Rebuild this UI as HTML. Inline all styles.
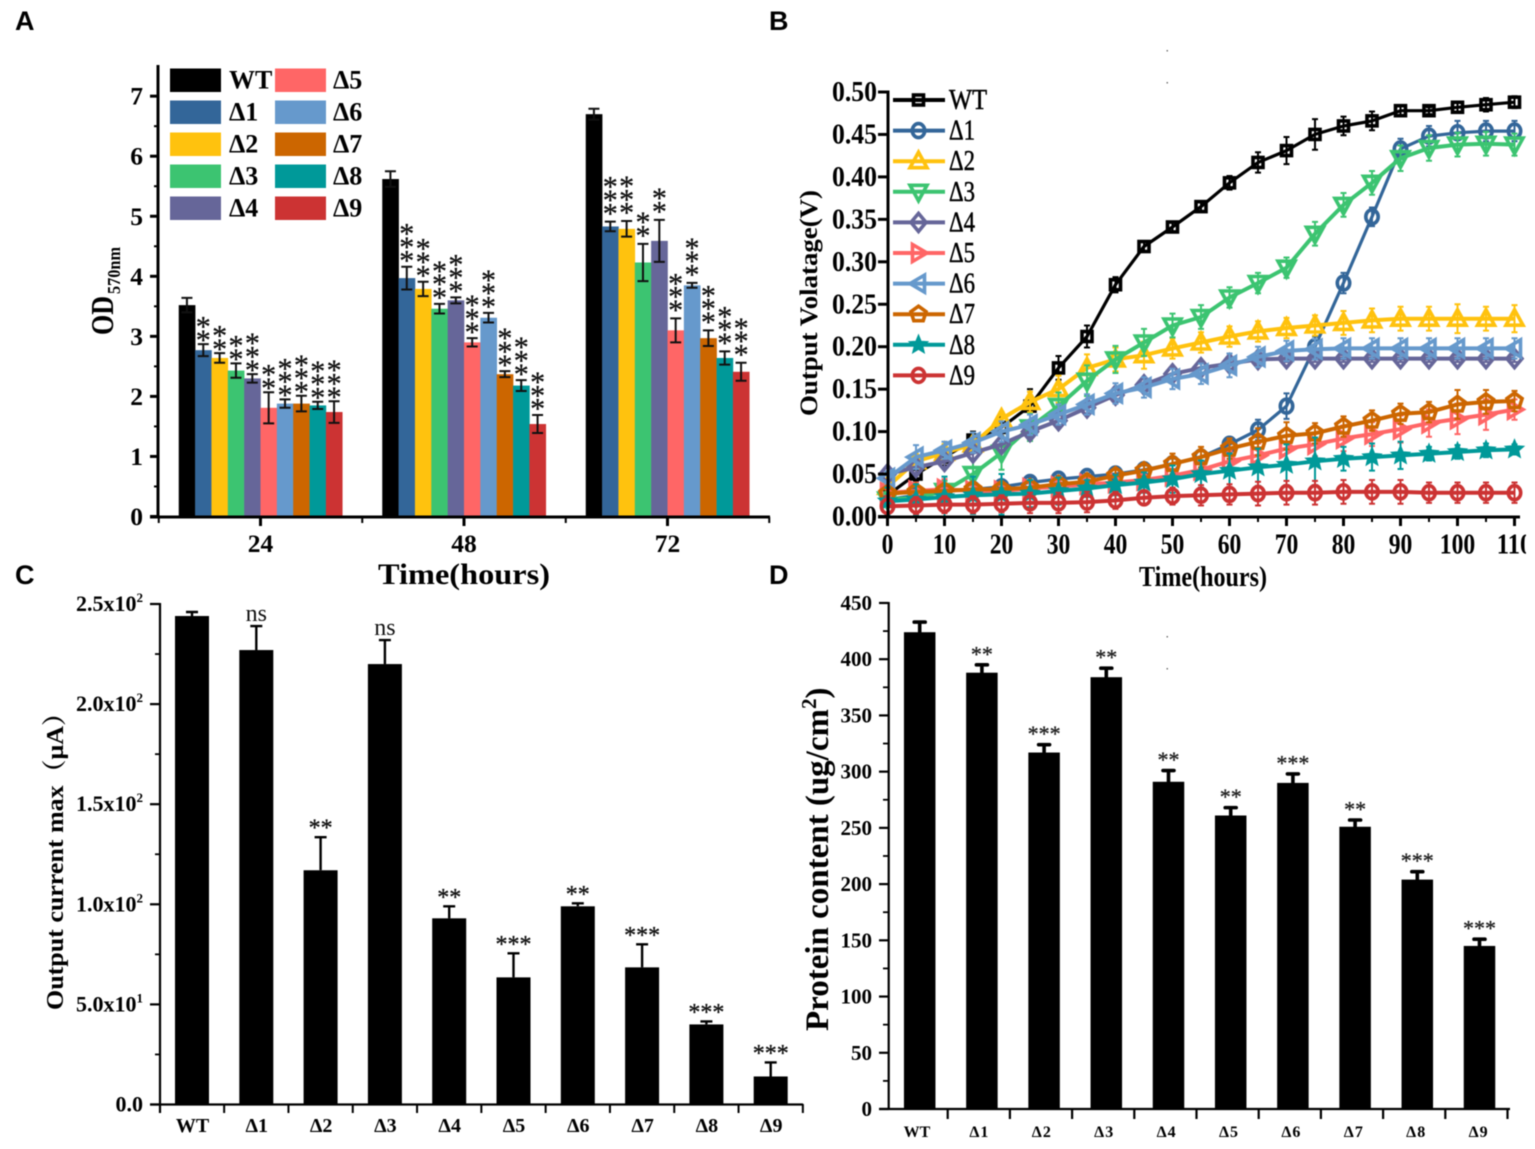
<!DOCTYPE html>
<html lang="en">
<head>
<meta charset="utf-8">
<title>Multi-panel growth and output chart</title>
<style>
html,body{margin:0;padding:0;background:#fff;}
svg{display:block;font-family:"Liberation Serif","Noto Serif CJK SC",serif;filter:blur(0.4px);}
.panel{font-family:"Liberation Sans",sans-serif;font-weight:700;font-size:27px;fill:#000;}
.b{font-weight:700;fill:#000;}
</style>
</head>
<body>
<svg id="fig" xmlns="http://www.w3.org/2000/svg" width="1535" height="1149" viewBox="0 0 1535 1149">
  <rect width="1535" height="1149" fill="#fff"/>
  <text class="panel" x="15" y="30">A</text>
  <text class="panel" x="769" y="30">B</text>
  <text class="panel" x="15" y="584">C</text>
  <text class="panel" x="769" y="584">D</text>

  <g id="panelA"></g>
  <text class="b" font-size="32" textLength="39" lengthAdjust="spacingAndGlyphs" transform="translate(113,335) rotate(-90)">OD</text>
  <text class="b" font-size="18" textLength="47" lengthAdjust="spacingAndGlyphs" transform="translate(120,294) rotate(-90)">570nm</text>
  <text class="b" x="378" y="584" font-size="30" textLength="172" lengthAdjust="spacingAndGlyphs">Time(hours)</text>

  <g id="panelB"></g>
  <text class="b" font-size="25" textLength="226" lengthAdjust="spacingAndGlyphs" transform="translate(817,416) rotate(-90)">Output Volatage(V)</text>
  <text class="b" x="1139" y="586" font-size="28" textLength="128" lengthAdjust="spacingAndGlyphs">Time(hours)</text>
  <rect x="1526" y="525" width="9" height="40" fill="#fff"/>
  <g fill="#777">
    <rect x="1166.5" y="50" width="1.5" height="1.5"/>
    <rect x="1166.5" y="82" width="1.5" height="1.5"/>
    <rect x="1166.5" y="636" width="1.5" height="1.5"/>
    <rect x="1166.5" y="668" width="1.5" height="1.5"/>
  </g>

  <g id="panelC"></g>
  <text class="b" font-size="24.5" textLength="310" lengthAdjust="spacingAndGlyphs" transform="translate(63,1010) rotate(-90)">Output current max（μA）</text>

  <g id="panelD"></g>
  <text class="b" font-size="33" transform="translate(828,1031) rotate(-90)">Protein content (ug/cm<tspan font-size="21" dy="-12">2</tspan><tspan dy="12">)</tspan></text>
</svg>
<script>
/* ---------- shared categories ---------- */
const strains = ['WT','Δ1','Δ2','Δ3','Δ4','Δ5','Δ6','Δ7','Δ8','Δ9'];
const strainColors = ['#000000','#336699','#ffc20e','#3cc471','#666699','#ff6666','#6699cc','#cc6600','#009999','#cc3333'];

/* ---------- panel A data ---------- */
const hourLabels = ['24','48','72'];
const odTicks = [0,1,2,3,4,5,6,7];
const odMinorTicks = [0.5,1.5,2.5,3.5,4.5,5.5,6.5];
const od24 = [3.52,2.77,2.64,2.43,2.30,1.81,1.88,1.88,1.85,1.74];
const od48 = [5.62,3.97,3.79,3.46,3.60,2.90,3.31,2.37,2.18,1.54];
const od72 = [6.70,4.83,4.79,4.23,4.59,3.10,3.85,2.97,2.64,2.41];
const odErr24 = [0.12,0.10,0.08,0.12,0.07,0.26,0.07,0.13,0.06,0.18];
const odErr48 = [0.13,0.19,0.12,0.08,0.05,0.07,0.08,0.05,0.09,0.15];
const odErr72 = [0.09,0.08,0.13,0.31,0.35,0.20,0.04,0.13,0.11,0.15];
const odStars24 = [0,2,2,2,3,2,3,3,3,3];
const odStars48 = [0,3,3,3,3,3,3,3,3,3];
const odStars72 = [0,3,3,2,2,3,3,3,3,3];

/* ---------- panel B data ---------- */
const hours = [0,5,10,15,20,25,30,35,40,45,50,55,60,65,70,75,80,85,90,95,100,105,110];
const hourTicks = [0,10,20,30,40,50,60,70,80,90,100,110];
const hourMinorTicks = [5,15,25,35,45,55,65,75,85,95,105];
const voltTicks = [0,0.05,0.10,0.15,0.20,0.25,0.30,0.35,0.40,0.45,0.50];
const voltWT = [.025,.05,.07,.09,.105,.13,.175,.212,.273,.318,.341,.365,.393,.417,.431,.45,.46,.466,.478,.478,.482,.485,.488];
const volt1 = [.02,.025,.03,.032,.035,.04,.044,.047,.05,.055,.062,.07,.085,.102,.13,.2,.275,.353,.433,.448,.452,.454,.454];
const volt2 = [.035,.065,.075,.085,.115,.135,.15,.175,.185,.19,.198,.205,.212,.218,.222,.225,.228,.231,.233,.233,.233,.233,.233];
const volt3 = [.02,.022,.03,.05,.075,.105,.13,.16,.185,.205,.225,.235,.258,.275,.293,.333,.367,.393,.422,.434,.438,.439,.438];
const volt4 = [.05,.058,.065,.075,.085,.1,.113,.128,.143,.155,.168,.175,.18,.185,.186,.186,.186,.186,.186,.186,.186,.186,.186];
const volt5 = [.028,.03,.032,.03,.03,.033,.035,.038,.04,.043,.048,.055,.065,.072,.08,.085,.092,.097,.103,.11,.115,.12,.126];
const volt6 = [.045,.07,.078,.087,.1,.108,.12,.132,.145,.152,.162,.168,.178,.188,.195,.197,.198,.198,.198,.198,.198,.198,.198];
const volt7 = [.027,.029,.03,.032,.032,.034,.038,.041,.048,.054,.062,.07,.08,.088,.095,.098,.106,.113,.121,.123,.132,.135,.136];
const volt8 = [.018,.02,.023,.025,.026,.027,.03,.033,.037,.04,.044,.05,.054,.058,.061,.065,.068,.07,.072,.074,.076,.078,.079];
const volt9 = [.012,.013,.014,.014,.015,.016,.016,.017,.019,.022,.024,.025,.026,.027,.028,.028,.029,.029,.029,.028,.028,.028,.028];
const voltErrWT = [.004,.008,.01,.01,.012,.02,.014,.013,.009,.006,.005,.005,.008,.012,.016,.018,.011,.011,.006,.004,.006,.008,.007];
const voltErr1 = [.004,.004,.004,.004,.005,.006,.004,.004,.005,.005,.006,.007,.008,.012,.015,.012,.012,.011,.012,.012,.014,.012,.012];
const voltErr2 = [.006,.008,.01,.008,.008,.012,.016,.016,.014,.016,.012,.012,.012,.012,.012,.012,.014,.014,.014,.014,.017,.014,.016];
const voltErr3 = [.004,.006,.012,.018,.02,.016,.016,.018,.016,.016,.014,.014,.012,.012,.012,.014,.014,.014,.015,.015,.014,.014,.013];
const voltErr4 = [.008,.008,.008,.008,.008,.008,.008,.008,.008,.008,.008,.008,.006,.004,.004,.004,.004,.004,.004,.004,.004,.004,.004];
const voltErr5 = [.004,.01,.012,.01,.006,.008,.006,.008,.006,.006,.008,.01,.012,.014,.015,.014,.015,.014,.016,.016,.018,.018,.012];
const voltErr6 = [.008,.014,.01,.012,.012,.012,.012,.012,.012,.012,.012,.012,.014,.012,.012,.012,.012,.012,.012,.012,.012,.012,.012];
const voltErr7 = [.006,.008,.006,.006,.006,.008,.006,.008,.008,.008,.012,.012,.012,.016,.016,.012,.012,.012,.012,.012,.017,.014,.012];
const voltErr8 = [.016,.018,.024,.022,.024,.016,.016,.01,.012,.012,.016,.016,.02,.022,.024,.028,.014,.016,.016,.008,.008,.008,.006];
const voltErr9 = [.012,.01,.01,.01,.01,.012,.012,.012,.01,.008,.01,.012,.012,.014,.014,.014,.014,.014,.014,.012,.012,.012,.012];
const markerKinds = ['square','circle','up','down','diamond','right','left','pentagon','star','circle'];

/* ---------- panel C data ---------- */
const currentTicks = [0,50,100,150,200,250];
const currentMinorTicks = [25,75,125,175,225];
const currentTickLabels = ['0.0','5.0x10','1.0x10','1.5x10','2.0x10','2.5x10'];
const currentTickExps = ['','1','2','2','2','2'];
const currentMax = [244,227,117,220,93,63.5,99,68.5,40,14];
const currentErr = [2,12,16.5,12,6,12,1.5,11.5,1.5,7];
const currentSig = ['','ns','**','ns','**','***','**','***','***','***'];

/* ---------- panel D data ---------- */
const proteinTicks = [0,50,100,150,200,250,300,350,400,450];
const proteinMinorTicks = [25,75,125,175,225,275,325,375,425];
const protein = [424,388,317,384,291,261,290,251,204,145];
const proteinErr = [9,7,7,8,10,7,8,6,7,6];
const proteinSig = ['','**','***','**','**','**','***','**','***','***'];

/* ---------- helper ---------- */
const NS = 'http://www.w3.org/2000/svg';
function mk(parent, tag, attrs, text) {
  const e = document.createElementNS(NS, tag);
  for (const k in attrs) e.setAttribute(k, attrs[k]);
  if (text !== undefined) e.textContent = text;
  parent.appendChild(e);
  return e;
}
const BOLD = 'bold';

/* ========== Panel A ========== */
(function () {
  const g = document.getElementById('panelA');
  const yA = v => 516.5 - v * 60.05;
  const xA = i => 260.5 + 203.5 * i;
  const barW = 16.35;
  const axisLeft = 158;
  const axisRight = 770;

  const series = [od24, od48, od72];
  const errs = [odErr24, odErr48, odErr72];
  const stars = [odStars24, odStars48, odStars72];

  series.forEach((vals, gi) => {
    vals.forEach((v, i) => {
      const x0 = xA(gi) - barW * 5 + i * barW;
      const bar = mk(g, 'rect', {x: x0, y: yA(v), width: barW + 0.3, height: yA(0) - yA(v), fill: strainColors[i]});
      
      
    });
    vals.forEach((v, i) => {
      const cx = xA(gi) - barW * 5 + (i + 0.5) * barW;
      const e = errs[gi][i];
      const eb = mk(g, 'path', {d: `M${cx - 5.5} ${yA(v + e)}H${cx + 5.5}M${cx} ${yA(v + e)}V${yA(v - e)}M${cx - 5.5} ${yA(v - e)}H${cx + 5.5}`, stroke: '#111', 'stroke-width': 2, fill: 'none'});
      
      
      for (let s = 0; s < stars[gi][i]; s++) {
        const starCy = yA(v + e) - (8.5 + 2 * gi) - s * 13.3;
        const st = mk(g, 'text', {x: cx, y: starCy + 14.1, 'font-size': 30, 'text-anchor': 'middle', fill: '#111', stroke: '#111', 'stroke-width': 0.3}, '*');
        
        
      }
    });
  });

  const yAxis = mk(g, 'line', {x1: axisLeft, x2: axisLeft, y1: 65, y2: 518, stroke: '#000', 'stroke-width': 3});
  
  
  const xAxis = mk(g, 'line', {x1: axisLeft - 8, x2: axisRight, y1: 517, y2: 517, stroke: '#000', 'stroke-width': 3});
  
  

  odTicks.forEach(t => {
    const tk = mk(g, 'line', {x1: axisLeft - 8, x2: axisLeft, y1: yA(t), y2: yA(t), stroke: '#000', 'stroke-width': 3});
    
    
    const lb = mk(g, 'text', {x: 143, y: yA(t) + 8.5, 'font-size': 25.5, 'font-weight': BOLD, 'text-anchor': 'end'}, String(t));
    
    
  });
  odMinorTicks.forEach(t => {
    const tk = mk(g, 'line', {x1: axisLeft - 4, x2: axisLeft, y1: yA(t), y2: yA(t), stroke: '#000', 'stroke-width': 2});
    
    
  });
  hourLabels.forEach((h, i) => {
    const tk = mk(g, 'line', {x1: xA(i), x2: xA(i), y1: 517, y2: 526, stroke: '#000', 'stroke-width': 3});
    
    
    const lb = mk(g, 'text', {x: xA(i), y: 552, 'font-size': 25.5, 'font-weight': BOLD, 'text-anchor': 'middle'}, h);
    
    
  });
  for (let i = 0; i <= hourLabels.length; i++) {
    const mx = xA(i) - 101.75;
    const tk = mk(g, 'line', {x1: mx, x2: mx, y1: 517, y2: 523, stroke: '#000', 'stroke-width': 2});
    
    
  }

  strains.forEach((s, i) => {
    const col = Math.floor(i / 5);
    const row = i % 5;
    const sw = mk(g, 'rect', {x: 170 + col * 105, y: 68.5 + row * 32, width: 51, height: 23.5, fill: strainColors[i]});
    
    
    const lb = mk(g, 'text', {x: 229 + col * 104, y: 88.5 + row * 32, 'font-size': 26, 'font-weight': BOLD}, s);
    
    
  });
})();

/* ========== Panel B ========== */
(function () {
  const g = document.getElementById('panelB');
  const xB = h => 887.5 + h * 5.7;
  const yB = v => 516.5 - v * 849;

  const volts = [voltWT, volt1, volt2, volt3, volt4, volt5, volt6, volt7, volt8, volt9];
  const voltErrs = [voltErrWT, voltErr1, voltErr2, voltErr3, voltErr4, voltErr5, voltErr6, voltErr7, voltErr8, voltErr9];

  function poly(pts) {
    return pts.map(p => p[0].toFixed(1) + ',' + p[1].toFixed(1)).join(' ');
  }
  function marker(parent, kind, x, y, color) {
    const base = {fill: 'none', stroke: color, 'stroke-width': 3.6, 'stroke-linejoin': 'miter'};
    let m;
    if (kind === 'square') m = mk(parent, 'rect', Object.assign({x: x - 5, y: y - 5, width: 10, height: 10}, base));
    else if (kind === 'circle') m = mk(parent, 'ellipse', Object.assign({cx: x, cy: y, rx: 6.2, ry: 7}, base));
    else if (kind === 'up') m = mk(parent, 'polygon', Object.assign({points: poly([[x, y - 9], [x + 8.5, y + 6.5], [x - 8.5, y + 6.5]])}, base));
    else if (kind === 'down') m = mk(parent, 'polygon', Object.assign({points: poly([[x, y + 9], [x + 8.5, y - 6.5], [x - 8.5, y - 6.5]])}, base));
    else if (kind === 'diamond') m = mk(parent, 'polygon', Object.assign({points: poly([[x, y - 9], [x + 7.5, y], [x, y + 9], [x - 7.5, y]])}, base));
    else if (kind === 'right') m = mk(parent, 'polygon', Object.assign({points: poly([[x + 8.5, y], [x - 6, y + 8.5], [x - 6, y - 8.5]])}, base));
    else if (kind === 'left') m = mk(parent, 'polygon', Object.assign({points: poly([[x - 8.5, y], [x + 6, y + 8.5], [x + 6, y - 8.5]])}, base));
    else if (kind === 'pentagon') {
      const pts = [];
      for (let k = 0; k < 5; k++) {
        const a = -Math.PI / 2 + k * 2 * Math.PI / 5;
        pts.push([x + 8 * Math.cos(a), y + 8 * Math.sin(a)]);
      }
      m = mk(parent, 'polygon', Object.assign({points: poly(pts)}, base));
    } else {
      const pts = [];
      for (let k = 0; k < 10; k++) {
        const a = -Math.PI / 2 + k * Math.PI / 5;
        const r = k % 2 ? 4.5 : 10;
        pts.push([x + r * Math.cos(a), y + r * Math.sin(a)]);
      }
      m = mk(parent, 'polygon', {points: poly(pts), fill: color, stroke: color, 'stroke-width': 1});
    }
    
    
    return m;
  }

  volts.forEach((vals, si) => {
    const color = strainColors[si];
    const sg = mk(g, 'g', {});
    
    
    vals.forEach((v, i) => {
      const x = xB(hours[i]);
      const e = voltErrs[si][i];
      const low = Math.max(v - e, 0);
      const eb = mk(sg, 'path', {d: `M${x - 3} ${yB(v + e)}H${x + 3}M${x} ${yB(v + e)}V${yB(low)}M${x - 3} ${yB(low)}H${x + 3}`, stroke: color, 'stroke-width': 2, fill: 'none'});
      
      
    });
    const path = vals.map((v, i) => (i ? 'L' : 'M') + xB(hours[i]).toFixed(1) + ' ' + yB(v).toFixed(1)).join('');
    const ln = mk(sg, 'path', {d: path, fill: 'none', stroke: color, 'stroke-width': si < 2 ? 3.2 : 4, 'stroke-linejoin': 'round'});
    
    
    vals.forEach((v, i) => marker(sg, markerKinds[si], xB(hours[i]), yB(v), color));
  });

  const yAxis = mk(g, 'line', {x1: 888, x2: 888, y1: 90.5, y2: 518, stroke: '#000', 'stroke-width': 3});
  
  
  const xAxis = mk(g, 'line', {x1: 878, x2: 1520, y1: 517, y2: 517, stroke: '#000', 'stroke-width': 3});
  
  

  voltTicks.forEach(t => {
    const tk = mk(g, 'line', {x1: 878, x2: 888, y1: yB(t), y2: yB(t), stroke: '#000', 'stroke-width': 3});
    
    
    const lb = mk(g, 'text', {x: 877, y: yB(t) + 9, 'font-size': 28, 'font-weight': BOLD, 'text-anchor': 'end', textLength: 45, lengthAdjust: 'spacingAndGlyphs'}, t.toFixed(2));
    
    
  });
  hourTicks.forEach(t => {
    const tk = mk(g, 'line', {x1: xB(t), x2: xB(t), y1: 517, y2: 526, stroke: '#000', 'stroke-width': 3});
    
    
    const lb = mk(g, 'text', {x: xB(t), y: 553.5, 'font-size': 28, 'font-weight': BOLD, 'text-anchor': 'middle', textLength: String(t).length * 11.8, lengthAdjust: 'spacingAndGlyphs'}, String(t));
    
    
  });
  hourMinorTicks.forEach(t => {
    const tk = mk(g, 'line', {x1: xB(t), x2: xB(t), y1: 517, y2: 522, stroke: '#000', 'stroke-width': 2});
    
    
  });

  strains.forEach((s, i) => {
    const ly = 100 + i * 30.6;
    const ln = mk(g, 'line', {x1: 893, x2: 945, y1: ly, y2: ly, stroke: strainColors[i], 'stroke-width': 4});
    
    
    marker(g, markerKinds[i], 918.5, ly, strainColors[i]);
    const lb = mk(g, 'text', {x: 949, y: ly + 9, 'font-size': 28, fill: '#000', stroke: '#000', 'stroke-width': 0.5, textLength: s === 'WT' ? 38 : 26, lengthAdjust: 'spacingAndGlyphs'}, s);
    
    
  });
})();

/* ========== Panel C ========== */
(function () {
  const g = document.getElementById('panelC');
  const yC = v => 1104.5 - v * 2.002;
  const xC = i => 192 + i * 64.3;
  const barW = 34;

  currentMax.forEach((v, i) => {
    const bar = mk(g, 'rect', {x: xC(i) - barW / 2, y: yC(v), width: barW, height: yC(0) - yC(v), fill: '#000'});
    
    
    const top = yC(v + currentErr[i]);
    const eb = mk(g, 'path', {d: `M${xC(i) - 6} ${top}H${xC(i) + 6}M${xC(i)} ${top}V${yC(v)}`, stroke: '#000', 'stroke-width': 2.4, fill: 'none'});
    
    
    if (currentSig[i] === 'ns') {
      const t = mk(g, 'text', {x: xC(i), y: top - 5, 'font-size': 24, 'text-anchor': 'middle', fill: '#111'}, 'ns');
      
      
    } else if (currentSig[i]) {
      const t = mk(g, 'text', {x: xC(i), y: top - 1.5, 'font-size': 24, 'text-anchor': 'middle', fill: '#111', stroke: '#111', 'stroke-width': 0.3}, currentSig[i]);
      
      
    }
    const lb = mk(g, 'text', {x: xC(i) + 0.5, y: 1132, 'font-size': 20, 'font-weight': BOLD, 'text-anchor': 'middle'}, strains[i]);
    
    
    const tk = mk(g, 'line', {x1: xC(i) + 32.15, x2: xC(i) + 32.15, y1: 1104, y2: 1113, stroke: '#000', 'stroke-width': 2});
    
    
  });

  const yAxis = mk(g, 'line', {x1: 160, x2: 160, y1: 603, y2: 1113, stroke: '#000', 'stroke-width': 2.2});
  
  
  const xAxis = mk(g, 'line', {x1: 150, x2: 803, y1: 1104.5, y2: 1104.5, stroke: '#000', 'stroke-width': 2.2});
  
  

  currentTicks.forEach((t, i) => {
    const tk = mk(g, 'line', {x1: 150, x2: 160, y1: yC(t), y2: yC(t), stroke: '#000', 'stroke-width': 2.2});
    
    
    const lb = mk(g, 'text', {x: 143, y: yC(t) + 7, 'font-size': 22, 'font-weight': BOLD, 'text-anchor': 'end'});
    
    
    const mant = mk(lb, 'tspan', {}, currentTickLabels[i]);
    
    
    if (currentTickExps[i]) {
      const ex = mk(lb, 'tspan', {'font-size': 13, dy: -9}, currentTickExps[i]);
      
      
    }
  });
  currentMinorTicks.forEach(t => {
    const tk = mk(g, 'line', {x1: 155, x2: 160, y1: yC(t), y2: yC(t), stroke: '#000', 'stroke-width': 1.8});
    
    
  });
})();

/* ========== Panel D ========== */
(function () {
  const g = document.getElementById('panelD');
  const yD = v => 1109 - v * 1.1245;
  const xD = i => 919.7 + i * 62.2;
  const barW = 31.5;

  protein.forEach((v, i) => {
    const bar = mk(g, 'rect', {x: xD(i) - barW / 2, y: yD(v), width: barW, height: yD(0) - yD(v), fill: '#000'});
    
    
    const top = yD(v + proteinErr[i]);
    const eb = mk(g, 'path', {d: `M${xD(i) - 5.5} ${top}H${xD(i) + 5.5}M${xD(i)} ${top}V${yD(v)}`, stroke: '#000', 'stroke-width': 3.6, 'stroke-linecap': 'round', fill: 'none'});
    
    
    if (proteinSig[i]) {
      const t = mk(g, 'text', {x: xD(i), y: top - 3.5, 'font-size': 22, 'text-anchor': 'middle', fill: '#222', stroke: '#222', 'stroke-width': 0.3}, proteinSig[i]);
      
      
    }
    const lb = mk(g, 'text', {x: 917 + i * 62.4, y: 1137, 'font-size': 16, 'font-weight': BOLD, 'text-anchor': 'middle', 'letter-spacing': i ? 1 : 0}, strains[i]);
    
    
    const tk = mk(g, 'line', {x1: xD(i) + 28, x2: xD(i) + 28, y1: 1109, y2: 1119, stroke: '#000', 'stroke-width': 2.2});
    
    
  });

  const yAxis = mk(g, 'line', {x1: 888.7, x2: 888.7, y1: 602, y2: 1110, stroke: '#000', 'stroke-width': 2.2});
  
  
  const xAxis = mk(g, 'line', {x1: 879, x2: 1510, y1: 1109, y2: 1109, stroke: '#000', 'stroke-width': 2.2});
  
  

  proteinTicks.forEach(t => {
    const tk = mk(g, 'line', {x1: 879, x2: 888.7, y1: yD(t), y2: yD(t), stroke: '#000', 'stroke-width': 2.2});
    
    
    const lb = mk(g, 'text', {x: 872, y: yD(t) + 7, 'font-size': 21, 'font-weight': BOLD, 'text-anchor': 'end'}, String(t));
    
    
  });
  proteinMinorTicks.forEach(t => {
    const tk = mk(g, 'line', {x1: 883, x2: 888.7, y1: yD(t), y2: yD(t), stroke: '#000', 'stroke-width': 1.8});
    
    
  });
})();
</script>
</body>
</html>
